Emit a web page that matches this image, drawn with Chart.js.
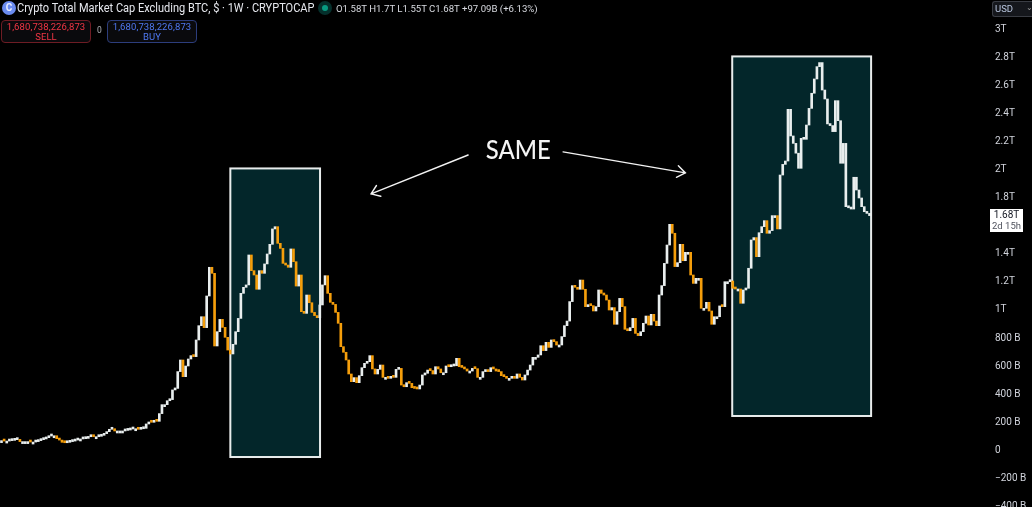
<!DOCTYPE html>
<html><head><meta charset="utf-8">
<style>
html,body{margin:0;padding:0;background:#000;width:1032px;height:507px;overflow:hidden}
#wrap{position:relative;width:1032px;height:507px}
canvas{position:absolute;left:0;top:0}
.t{position:absolute;font-family:Roboto,sans-serif;white-space:nowrap}
.badge{position:absolute;top:20px;width:88px;height:20px;border-radius:4px;background:#0a0a0d;text-align:center;font-family:Roboto,sans-serif;font-size:9.5px;line-height:10px;padding-top:1px;letter-spacing:.1px}
</style>
</head><body><div id="wrap">
<canvas id="c" width="1032" height="507"></canvas>
<div style="position:absolute;left:2px;top:1px;width:14px;height:14px;border-radius:50%;background:#6b8cf0;color:#e8ecff;font:bold 10px/14px Roboto,sans-serif;text-align:center">C</div>
<div class="t" style="left:17px;top:1px;font-size:12px;line-height:15px;color:#e6e8ee;transform:scaleX(.917);transform-origin:0 0">Crypto Total Market Cap Excluding BTC, $ · 1W · CRYPTOCAP</div>
<div style="position:absolute;left:318px;top:1px;width:14px;height:14px;border-radius:50%;background:#05302c"></div>
<div style="position:absolute;left:322px;top:5px;width:6px;height:6px;border-radius:50%;background:#089981"></div>
<div class="t" style="left:336px;top:2px;font-size:9.6px;line-height:13px;color:#d8dae0">O1.58T H1.7T L1.55T C1.68T +97.09B (+6.13%)</div>
<div class="badge" style="left:1px;border:1px solid #6e1c24;color:#f23645">1,680,738,226,873<br>SELL</div>
<div class="t" style="left:97px;top:25px;font-size:8.5px;line-height:10px;color:#b0b3ba">0</div>
<div class="badge" style="left:107px;border:1px solid #2c3d7c;color:#4f78f0">1,680,738,226,873<br>BUY</div>
<div style="position:absolute;left:992px;top:1px;width:40px;height:16px;border:1px solid #3a3d44;border-right:none;border-radius:3px 0 0 3px;background:#15171c;box-sizing:border-box"></div>
<div class="t" style="left:995px;top:3px;font-size:9.5px;line-height:12px;color:#b9c6de">USD</div>
<div class="t" style="left:1026px;top:2px;font-size:8px;line-height:12px;color:#999">⌄</div>
<div style="position:absolute;left:990px;top:209px;width:33px;height:23px;background:#fff"></div>
<div class="t" style="left:990px;top:209px;width:33px;text-align:center;font-size:10px;line-height:12px;color:#131722">1.68T</div>
<div class="t" style="left:990px;top:220px;width:33px;text-align:center;font-size:9.5px;line-height:12px;color:#50535e">2d 15h</div>
</div>
<script src="https://cdn.jsdelivr.net/npm/chart.js@4"></script>
<script>
// weekly closes in billions of USD
const closesEarly=[67,64,64,67,69,74,76,60,60,60,60,57,57,60,67,74,79,88,100,102,102,81,71,55,52,55,60,64,71,79,79,81,83,95,98,95,95,98,105,117,131,148,152,136,136,136,136,140,143,150,152,152,148,152,155,186,200,198,210,205,260,324,324,352,360,429];
const closesFirstPeak=[440,560,643,524,600,650,674,667,786,888,952,874,1100,1305,1262,743,845,933,876,805,714,686,755,845,940,1119,1162,1179,1393,1281,1250,1148,1281,1262,1329,1400,1469,1579,1595,1476,1440,1333,1321,1305,1436,1345,1171,1250,988,976,1107,1052,983,960,945,1036,1179,1245,1119,1055,1040,983,905,738,698,643,543,488,517,481];
const closesBear=[531,588,619,631,674,579,543,576,607,519,519,512,524,519,576,583,464,452,481,476,445,440,436,464,536,548,571,567,543,595,579,552,552,600,595,600,602,655,595,590,579,564,564,583,581,519,519,560,567,560,588,579,564,560,531,524,512,512,517,512,543,519,500,536,571,607,662,662,679,745,710,769];
const closesMiddle=[733,786,774,750,750,810,888,921,1060,1174,1162,1148,1214,1148,1024,1036,1031,993,1024,1143,1119,1107,1071,1000,1017,898,988,1083,1024,862,852,874,940,833,817,845,905,957,893,969,921,888,1107,1174,1333,1464,1612,1548,1310,1338,1469,1352,1412,1412,1250,1190,1226,1226,1012,1012,1055,993,898,952,952,1029,1024,1202,1202,1207,1155];
const closesLast=[1150,1150,1048,1143,1155,1298,1500,1517,1381,1552,1595,1638,1548,1567,1674,1674,1579,1964,2040,2064,2433,2243,2190,2120,2012,2226,2219,2321,2440,2548,2650,2738,2767,2571,2507,2329,2317,2274,2495,2352,2048,2190,1738,1730,1721,1948,1857,1800,1738,1702,1690,1674];
const tickValues=[-400,-200,0,200,400,600,800,1000,1200,1400,1600,1800,2000,2200,2400,2600,2800,3000];
const tickLabels=['−400 B','−200 B','0','200 B','400 B','600 B','800 B','1T','1.2T','1.4T','1.6T','1.8T','2T','2.2T','2.4T','2.6T','2.8T','3T'];
const highlightX=[[87,121.1],[277.8,330.6]];
const highlightY=[[-50,2011],[243,2811]];
const arrowsX=[[177.4,140.5],[213.5,260]];
const arrowsY=[[2107,1829],[2129,1979]];
const sameLabel=['SAME',196.5,2140];

const closes=[...closesEarly,...closesFirstPeak,...closesBear,...closesMiddle,...closesLast];
const allWhiteFrom=closes.length-35;
const ORANGE='#f59e0b',WHITE='#e9eeee';
const candles=closes.map((c,i)=>({x:i,y:[i?closes[i-1]:c,c]}));
const colors=closes.map((c,i)=>(i&&c<closes[i-1]&&i<allWhiteFrom)?ORANGE:WHITE);

const overlay={id:'overlay',
 beforeDatasetsDraw(ch){const {ctx,scales:{x,y}}=ch;ctx.save();
  highlightX.forEach((hx,k)=>{const l=x.getPixelForValue(hx[0]),r=x.getPixelForValue(hx[1]),t=y.getPixelForValue(highlightY[k][1]),b=y.getPixelForValue(highlightY[k][0]);
   ctx.fillStyle='#03262a';ctx.fillRect(l,t,r-l,b-t);ctx.strokeStyle='#e8ecec';ctx.lineWidth=2;ctx.strokeRect(l,t,r-l,b-t);});
  ctx.restore();},
 afterDatasetsDraw(ch){const {ctx,scales:{x,y}}=ch;ctx.save();ctx.strokeStyle='#f2f2f2';ctx.lineWidth=1.4;ctx.lineCap='round';
  arrowsX.forEach((ax,k)=>{const x0=x.getPixelForValue(ax[0]),x1=x.getPixelForValue(ax[1]),y0=y.getPixelForValue(arrowsY[k][0]),y1=y.getPixelForValue(arrowsY[k][1]);
   const a=Math.atan2(y1-y0,x1-x0),h=10;
   ctx.beginPath();ctx.moveTo(x0,y0);ctx.lineTo(x1,y1);
   ctx.moveTo(x1-h*Math.cos(a-.62),y1-h*Math.sin(a-.62));ctx.lineTo(x1,y1);ctx.lineTo(x1-h*Math.cos(a+.62),y1-h*Math.sin(a+.62));ctx.stroke();});
  ctx.fillStyle='#f4f4f4';ctx.font='500 27px Lato, sans-serif';ctx.textAlign='center';ctx.textBaseline='middle';
  ctx.fillText(sameLabel[0],x.getPixelForValue(sameLabel[1]),y.getPixelForValue(sameLabel[2]),65);
  ctx.restore();}
};

new Chart(document.getElementById('c'),{
 type:'bar',
 data:{datasets:[{data:candles,backgroundColor:colors,borderWidth:0,barThickness:2,minBarLength:2}]},
 plugins:[overlay],
 options:{responsive:false,animation:false,devicePixelRatio:1,
  layout:{padding:0},
  plugins:{legend:{display:false},tooltip:{enabled:false},title:{display:false}},
  scales:{
   x:{type:'linear',min:-0.57,max:373.9,offset:false,display:false,grid:{display:false}},
   y:{position:'right',min:-407,max:3214,
    grid:{display:false},border:{display:false},
    afterFit(s){s.width=47;s.paddingTop=0;s.paddingBottom=0;},
    afterBuildTicks(s){s.ticks=tickValues.map(v=>({value:v}));},
    ticks:{autoSkip:false,maxRotation:0,padding:2,align:'center',crossAlign:'near',color:'#d1d4dc',
     font:{family:'Roboto, sans-serif',size:10},
     callback:(v)=>{const i=tickValues.indexOf(v);return i<0?null:tickLabels[i];}}
   }
  }
 }
});
</script>
</body></html>
